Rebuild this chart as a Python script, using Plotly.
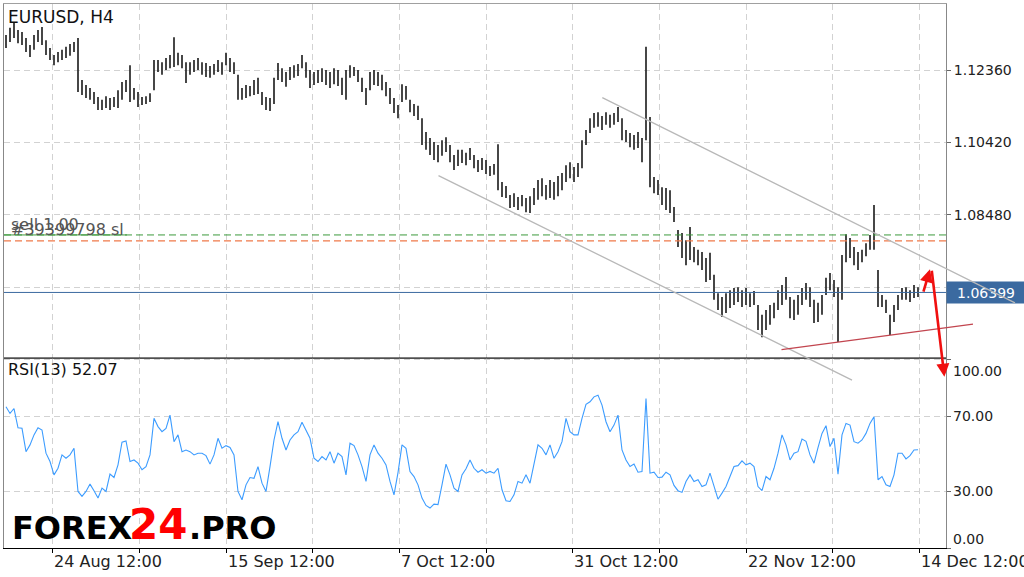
import plotly.graph_objects as go

# ---------------- data ----------------
symbol_title = "EURUSD, H4"
rsi_title = "RSI(13) 52.07"

# H4 bars (one bar per sampled column), highs and lows
highs = [
    1.1330, 1.1349, 1.1362, 1.1343, 1.1338, 1.1322, 1.1303, 1.1330, 1.1343, 1.1351,
    1.1316, 1.1295, 1.1276, 1.1284, 1.1290, 1.1298, 1.1306, 1.1311, 1.1322, 1.1209,
    1.1196, 1.1188, 1.1177, 1.1164, 1.1156, 1.1166, 1.1161, 1.1164, 1.1182, 1.1204,
    1.1209, 1.1249, 1.1188, 1.1177, 1.1164, 1.1166, 1.1174, 1.1263, 1.1263, 1.1257,
    1.1268, 1.1276, 1.1324, 1.1282, 1.1276, 1.1257, 1.1257, 1.1263, 1.1268, 1.1257,
    1.1255, 1.1247, 1.1252, 1.1263, 1.1257, 1.1282, 1.1268, 1.1257, 1.1223, 1.1188,
    1.1196, 1.1193, 1.1209, 1.1215, 1.1177, 1.1164, 1.1161, 1.1215, 1.1255, 1.1241,
    1.1231, 1.1244, 1.1249, 1.1252, 1.1276, 1.1257, 1.1236, 1.1231, 1.1236, 1.1241,
    1.1236, 1.1231, 1.1241, 1.1236, 1.1215, 1.1236, 1.1249, 1.1244, 1.1236, 1.1215,
    1.1188, 1.1231, 1.1236, 1.1231, 1.1223, 1.1204, 1.1188, 1.1161, 1.1142, 1.1198,
    1.1193, 1.1156, 1.1145, 1.1140, 1.1107, 1.1070, 1.1054, 1.1043, 1.1035, 1.1048,
    1.1056, 1.1035, 1.1008, 1.1022, 1.1022, 1.1014, 1.1027, 1.1008, 1.0995, 1.1000,
    1.0995, 1.0979, 1.0984, 1.1037, 1.0936, 1.0925, 1.0901, 1.0906, 1.0896, 1.0901,
    1.0893, 1.0898, 1.0920, 1.0941, 1.0946, 1.0928, 1.0941, 1.0936, 1.0952, 1.0960,
    1.0981, 1.0989, 1.0976, 1.0987, 1.1048, 1.1075, 1.1107, 1.1121, 1.1123, 1.1113,
    1.1123, 1.1116, 1.1121, 1.1137, 1.1107, 1.1075, 1.1067, 1.1062, 1.1070, 1.1054,
    1.1298, 1.1110, 1.0949, 1.0941, 1.0922, 1.0920, 1.0914, 1.0869, 1.0807, 1.0799,
    1.0780, 1.0815, 1.0762, 1.0754, 1.0748, 1.0732, 1.0746, 1.0687, 1.0638, 1.0628,
    1.0638, 1.0646, 1.0652, 1.0654, 1.0646, 1.0652, 1.0638, 1.0644, 1.0606, 1.0580,
    1.0593, 1.0606, 1.0612, 1.0646, 1.0660, 1.0681, 1.0628, 1.0620, 1.0633, 1.0652,
    1.0665, 1.0654, 1.0620, 1.0612, 1.0633, 1.0679, 1.0692, 1.0673, 1.0654, 1.0740,
    1.0796, 1.0786, 1.0762, 1.0748, 1.0754, 1.0772, 1.0794, 1.0874, 1.0700, 1.0633,
    1.0620, 1.0580, 1.0606, 1.0633, 1.0652, 1.0654, 1.0646, 1.0660, 1.0654,
]
lows = [
    1.1295, 1.1311, 1.1322, 1.1308, 1.1303, 1.1284, 1.1271, 1.1290, 1.1311, 1.1303,
    1.1276, 1.1263, 1.1249, 1.1257, 1.1263, 1.1268, 1.1274, 1.1284, 1.1177, 1.1169,
    1.1161, 1.1156, 1.1145, 1.1129, 1.1129, 1.1134, 1.1129, 1.1137, 1.1134, 1.1156,
    1.1177, 1.1150, 1.1156, 1.1137, 1.1142, 1.1145, 1.1150, 1.1182, 1.1231, 1.1223,
    1.1236, 1.1241, 1.1244, 1.1249, 1.1241, 1.1201, 1.1223, 1.1231, 1.1236, 1.1223,
    1.1217, 1.1215, 1.1223, 1.1231, 1.1223, 1.1249, 1.1231, 1.1225, 1.1156, 1.1156,
    1.1161, 1.1166, 1.1169, 1.1172, 1.1142, 1.1129, 1.1126, 1.1145, 1.1209, 1.1204,
    1.1191, 1.1209, 1.1215, 1.1220, 1.1241, 1.1215, 1.1188, 1.1196, 1.1201, 1.1204,
    1.1196, 1.1188, 1.1198, 1.1193, 1.1169, 1.1156, 1.1215, 1.1220, 1.1204, 1.1177,
    1.1142, 1.1182, 1.1196, 1.1193, 1.1182, 1.1166, 1.1145, 1.1121, 1.1107, 1.1150,
    1.1156, 1.1123, 1.1113, 1.1102, 1.1035, 1.1022, 1.1008, 1.0995, 1.0989, 1.1006,
    1.1016, 1.0989, 1.0968, 1.0979, 1.0987, 1.0981, 1.0995, 1.0973, 1.0963, 1.0968,
    1.0957, 1.0952, 1.0955, 1.0914, 1.0896, 1.0893, 1.0866, 1.0869, 1.0861, 1.0871,
    1.0855, 1.0853, 1.0874, 1.0888, 1.0898, 1.0888, 1.0893, 1.0888, 1.0898, 1.0914,
    1.0936, 1.0946, 1.0936, 1.0949, 1.0973, 1.1035, 1.1067, 1.1081, 1.1084, 1.1075,
    1.1089, 1.1081, 1.1089, 1.1097, 1.1048, 1.1043, 1.1029, 1.1022, 1.1027, 1.0989,
    1.1048, 1.0922, 1.0906, 1.0901, 1.0874, 1.0861, 1.0853, 1.0829, 1.0762, 1.0732,
    1.0713, 1.0727, 1.0721, 1.0713, 1.0700, 1.0668, 1.0673, 1.0620, 1.0593, 1.0574,
    1.0585, 1.0598, 1.0606, 1.0614, 1.0601, 1.0606, 1.0601, 1.0606, 1.0539, 1.0520,
    1.0539, 1.0553, 1.0571, 1.0593, 1.0606, 1.0620, 1.0571, 1.0566, 1.0580, 1.0606,
    1.0620, 1.0601, 1.0558, 1.0561, 1.0580, 1.0633, 1.0646, 1.0628, 1.0507, 1.0620,
    1.0721, 1.0732, 1.0713, 1.0700, 1.0721, 1.0737, 1.0754, 1.0754, 1.0601, 1.0601,
    1.0585, 1.0526, 1.0561, 1.0593, 1.0620, 1.0620, 1.0614, 1.0625, 1.0628,
]
rsi = [
    74.9, 71.4, 74.0, 63.8, 63.5, 51.1, 54.7, 60.0, 63.8, 62.6,
    50.3, 45.9, 38.8, 42.3, 49.4, 47.6, 49.4, 52.9, 30.0, 27.4,
    30.0, 33.9, 30.4, 26.5, 31.8, 30.0, 39.2, 37.4, 44.1, 56.1,
    56.8, 45.9, 46.7, 45.0, 41.5, 43.2, 49.4, 68.8, 64.4, 61.7,
    63.5, 70.5, 56.4, 60.0, 51.1, 52.0, 51.1, 49.4, 50.3, 50.3,
    49.0, 44.5, 49.4, 58.2, 52.9, 54.3, 53.3, 49.4, 30.0, 25.6,
    33.5, 37.4, 37.0, 43.2, 34.4, 30.0, 43.2, 57.3, 67.0, 58.2,
    52.0, 57.3, 60.0, 61.7, 66.7, 62.6, 58.2, 47.6, 45.9, 48.5,
    46.7, 51.1, 45.0, 50.3, 48.5, 38.8, 55.6, 54.3, 49.4, 43.2,
    35.3, 49.4, 54.7, 50.3, 47.6, 44.1, 35.3, 28.2, 40.0, 54.7,
    52.9, 40.6, 37.9, 33.5, 26.5, 22.6, 21.2, 23.3, 23.0, 33.5,
    44.5, 38.8, 31.8, 30.0, 38.8, 42.0, 46.7, 42.3, 40.2, 41.5,
    39.7, 40.6, 39.7, 42.3, 30.9, 25.1, 24.7, 28.2, 35.3, 34.4,
    38.8, 34.4, 44.6, 54.7, 52.9, 49.4, 54.7, 47.6, 51.1, 56.4,
    68.8, 61.7, 60.0, 60.0, 68.8, 76.2, 77.6, 80.2, 81.1, 75.8,
    67.0, 61.7, 65.2, 70.5, 52.0, 46.7, 43.2, 44.5, 40.2, 40.6,
    79.3, 39.7, 40.2, 37.4, 37.6, 40.2, 38.8, 33.2, 30.4, 29.5,
    35.3, 38.8, 35.3, 36.2, 32.6, 33.5, 39.7, 32.6, 25.9, 29.1,
    32.6, 37.9, 43.2, 43.7, 46.2, 44.1, 45.0, 43.2, 32.6, 30.4,
    37.9, 36.2, 42.3, 50.3, 60.0, 54.7, 46.7, 50.3, 51.1, 57.8,
    56.6, 49.4, 45.0, 53.3, 60.8, 64.9, 53.8, 58.2, 39.2, 60.0,
    66.1, 65.2, 56.4, 55.6, 57.3, 60.8, 66.1, 69.6, 36.2, 37.9,
    33.5, 32.6, 38.8, 50.3, 50.3, 47.3, 49.0, 52.0, 52.1,
]

# time axis (bar-index positions of the grid / labels)
grid_positions = [11.5, 33.25, 55, 76.5, 98.25, 120, 141.5, 163.25, 185, 206.5, 228.25]
date_positions = [11.5, 55, 98.25, 141.5, 185, 228.25]
date_labels = ["24 Aug 12:00", "15 Sep 12:00", "7 Oct 12:00",
               "31 Oct 12:00", "22 Nov 12:00", "14 Dec 12:00"]

price_ticks = [1.12360, 1.10420, 1.08480, 1.06540]
price_tick_labels = ["1.12360", "1.10420", "1.08480", ""]
rsi_levels = [100, 70, 30, 0]
rsi_level_labels = ["100.00", "70.00", "30.00", "0.00"]

current_price = 1.06399
order_open = 1.0794        # "sell 1.00"
order_sl = 1.0778          # "#39399798 sl"

# trend lines: (start bar, start price, end bar, end price)
channel_upper = (148.7, 1.1164, 252.25, 1.0612)
channel_lower = (107.75, 1.0955, 211.5, 1.0405)
support_line = (193.5, 1.0486, 241.75, 1.0555)
arrow_up = (229.25, 1.0638, 231.0, 1.0702)
arrow_down = (231.4, 1.0702, 234.6, 1.0414)

# ---------------- figure ----------------
FONT = "DejaVu Sans"
split = 0.34926
x_range = [-0.5, 235]

seg_x, seg_y = [], []
for i, (h, l) in enumerate(zip(highs, lows)):
    seg_x += [i, i, None]
    seg_y += [l, h, None]

fig = go.Figure()
fig.add_trace(go.Scatter(x=seg_x, y=seg_y, mode="lines",
                         line=dict(color="#262626", width=1.7),
                         xaxis="x", yaxis="y", hoverinfo="skip"))
fig.add_trace(go.Scatter(x=list(range(len(rsi))), y=rsi, mode="lines",
                         line=dict(color="#3c9cff", width=1.1),
                         xaxis="x2", yaxis="y2", hoverinfo="skip"))

grid_style = dict(showgrid=True, gridcolor="#d2d2d2", griddash="6px,4px", gridwidth=1, zeroline=False)

fig.update_layout(
    template="none",
    width=1024, height=577,
    margin=dict(l=4, r=78, t=4, b=29),
    paper_bgcolor="white", plot_bgcolor="white",
    showlegend=False, hovermode=False,
    font=dict(family=FONT, color="#222222"),
    xaxis=dict(domain=[0, 1], range=x_range, anchor="y", tickvals=grid_positions,
               showticklabels=False, ticks="", showline=True, mirror=True,
               linecolor="#a0a0a0", **grid_style),
    xaxis2=dict(domain=[0, 1], range=x_range, anchor="y2", tickvals=grid_positions,
                showticklabels=False, ticks="outside", ticklen=4, tickcolor="#000000",
                showline=True, linecolor="#000000", linewidth=1, **grid_style),
    yaxis=dict(domain=[split, 1], range=[1.04642, 1.14129], anchor="x", side="right",
               tickvals=price_ticks, ticktext=price_tick_labels, ticks="outside",
               ticklen=4, tickcolor="#666666", showline=True, mirror=True,
               linecolor="#888888", linewidth=1,
               tickfont=dict(family=FONT, size=14, color="#222222"), **grid_style),
    yaxis2=dict(domain=[0, split], range=[0, 100.8], anchor="x2", side="right",
                tickvals=rsi_levels, showticklabels=False, ticks="outside", ticklen=4,
                tickcolor="#666666", showline=True, mirror=True,
                linecolor="#888888", linewidth=1, **grid_style),
)

shapes = [
    # order lines
    dict(type="line", xref="paper", x0=0, x1=1, yref="y", y0=order_open, y1=order_open,
         line=dict(color="#3c9a3c", width=1, dash="7px,4px")),
    dict(type="line", xref="x", x0=x_range[0], x1=30.25, yref="y", y0=order_open, y1=order_open,
         line=dict(color="#3c9a3c", width=1)),
    dict(type="line", xref="paper", x0=0, x1=1, yref="y", y0=order_sl, y1=order_sl,
         line=dict(color="#f07a4a", width=1.2, dash="7px,4px")),
    # current price line
    dict(type="line", xref="paper", x0=0, x1=1, yref="y", y0=current_price, y1=current_price,
         line=dict(color="#3b6aa0", width=1)),
    # panel separator
    dict(type="line", xref="paper", x0=0, x1=1, yref="paper", y0=split, y1=split,
         line=dict(color="#000000", width=1.2)),
]
fig.update_layout(shapes=shapes)

ann = []
# title texts
ann.append(dict(text=symbol_title, xref="paper", yref="paper", x=0, y=0.9761,
                xanchor="left", yanchor="middle", xshift=2, showarrow=False,
                font=dict(family=FONT, size=17, color="#111111")))
ann.append(dict(text=rsi_title, xref="paper", yref="paper", x=0, y=0.3281,
                xanchor="left", yanchor="middle", xshift=2, showarrow=False,
                font=dict(family=FONT, size=16, color="#111111")))
ann.append(dict(text="sell 1.00", xref="paper", yref="y", x=0, y=order_open,
                xanchor="left", yanchor="middle", xshift=5, yshift=10, showarrow=False,
                font=dict(family=FONT, size=16, color="#555555")))
ann.append(dict(text="#39399798 sl", xref="paper", yref="y", x=0, y=order_sl,
                xanchor="left", yanchor="middle", xshift=5, yshift=11, showarrow=False,
                font=dict(family=FONT, size=16, color="#555555")))
# date labels
for pos, lab in zip(date_positions, date_labels):
    ann.append(dict(text=lab, xref="x2", yref="paper", x=pos, y=-0.0239,
                    xanchor="left", yanchor="middle", showarrow=False,
                    font=dict(family=FONT, size=16, color="#222222")))
# RSI level labels
rsi_shift = {100: -11, 70: 0, 30: 0, 0: 9}
for lev, lab in zip(rsi_levels, rsi_level_labels):
    ann.append(dict(text=lab, xref="paper", yref="y2", x=1, y=lev, xanchor="left",
                    yanchor="middle", xshift=5, yshift=rsi_shift[lev], showarrow=False,
                    font=dict(family=FONT, size=14, color="#222222")))
# current price box
ann.append(dict(text=f"{current_price:.5f}", xref="paper", yref="y", x=1, y=current_price,
                xanchor="left", yanchor="middle", showarrow=False, bgcolor="#3b6aa0",
                width=74, height=17, borderpad=2, align="center",
                font=dict(family=FONT, size=14, color="white")))
# trend lines & arrows drawn as annotation arrows in data coordinates
def seg(line, color, width, head):
    x0, y0, x1, y1 = line
    return dict(text="", x=x1, y=y1, ax=x0, ay=y0, xref="x", yref="y", axref="x", ayref="y",
                showarrow=True, arrowhead=head, arrowsize=1, arrowwidth=width,
                arrowcolor=color, standoff=0, startstandoff=0)
ann.append(seg(channel_upper, "#b8b8b8", 1.3, 0))
ann.append(seg(channel_lower, "#b8b8b8", 1.3, 0))
ann.append(seg(support_line, "#c2454f", 1.3, 0))
ann.append(seg(arrow_up, "#f01010", 2.6, 2))
ann.append(seg(arrow_down, "#f01010", 2.6, 2))
# watermark
ann.append(dict(text="<b>FOREX</b>", xref="paper", yref="paper", x=0.0064, y=0.0368,
                xanchor="left", yanchor="middle", showarrow=False,
                font=dict(family=FONT, size=32, color="#000000")))
ann.append(dict(text="<b>24</b>", xref="paper", yref="paper", x=0.1306, y=0.0441,
                xanchor="left", yanchor="middle", showarrow=False,
                font=dict(family=FONT, size=42, color="#ff0000")))
ann.append(dict(text="<b>.PRO</b>", xref="paper", yref="paper", x=0.1943, y=0.0368,
                xanchor="left", yanchor="middle", showarrow=False,
                font=dict(family=FONT, size=32, color="#000000")))
fig.update_layout(annotations=ann)

fig.write_html("out.html", config={"displayModeBar": False},
               post_script="document.body.style.margin='0';")
